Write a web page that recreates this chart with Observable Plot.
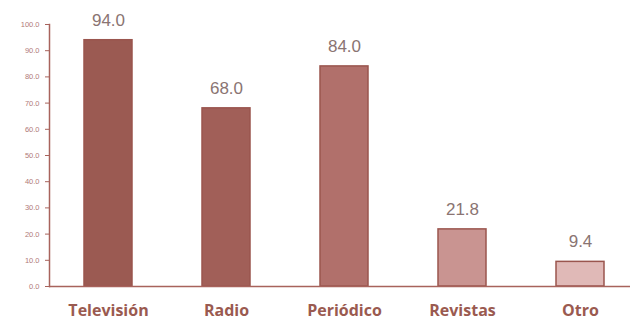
<!DOCTYPE html>
<html>
<head>
<meta charset="utf-8">
<script src="https://cdn.jsdelivr.net/npm/d3@7"></script>
<script src="https://cdn.jsdelivr.net/npm/@observablehq/plot@0.6"></script>
<style>
  body { margin: 0; background: #fff; }
</style>
</head>
<body>
<div id="chart"></div>
<script>
const categories = ["Televisión", "Radio", "Periódico", "Revistas", "Otro"];
const values = [94.0, 68.0, 84.0, 21.8, 9.4];
const colors = ["#9b5a52", "#a15f58", "#b1706b", "#c99491", "#e0b9b7"];
const yTicks = [0, 10, 20, 30, 40, 50, 60, 70, 80, 90, 100];

const data = categories.map((c, i) => ({category: c, value: values[i], color: colors[i]}));

const axisColor = "#a8635c";

const chart = Plot.plot({
  width: 630,
  height: 325,
  marginTop: 24,
  marginBottom: 39,
  marginLeft: 49,
  marginRight: 0,
  style: {background: "#fff", overflow: "visible"},
  x: {domain: categories, range: [49, 639], paddingInner: 0.59, paddingOuter: 0.295, label: null},
  y: {domain: [0, 100], label: null},
  marks: [
    Plot.barY(data, {x: "category", y: "value", fill: "color", stroke: "#9a554e", strokeWidth: 1.5}),
    Plot.text(data, {x: "category", y: "value", text: d => d.value.toFixed(1), dy: -20, fontSize: 17, fill: "#8a7472", fontFamily: "Liberation Sans, Arial, sans-serif"}),
    Plot.axisY({ticks: yTicks, tickFormat: d => d.toFixed(1), tickSize: 4, tickPadding: 6, stroke: axisColor, fill: "#b07a77", fontSize: 7.5, fontFamily: "Liberation Sans, Arial, sans-serif", label: null}),
    Plot.frame({anchor: "left", stroke: axisColor, strokeWidth: 1.5}),
    Plot.ruleY([0], {stroke: axisColor, strokeWidth: 1.5}),
    Plot.axisX({tickSize: 0, tickPadding: 18, fill: "#9a5a50", fontSize: 16, fontWeight: "bold", fontFamily: "Open Sans, sans-serif", label: null})
  ]
});
document.getElementById("chart").appendChild(chart);
</script>
</body>
</html>
